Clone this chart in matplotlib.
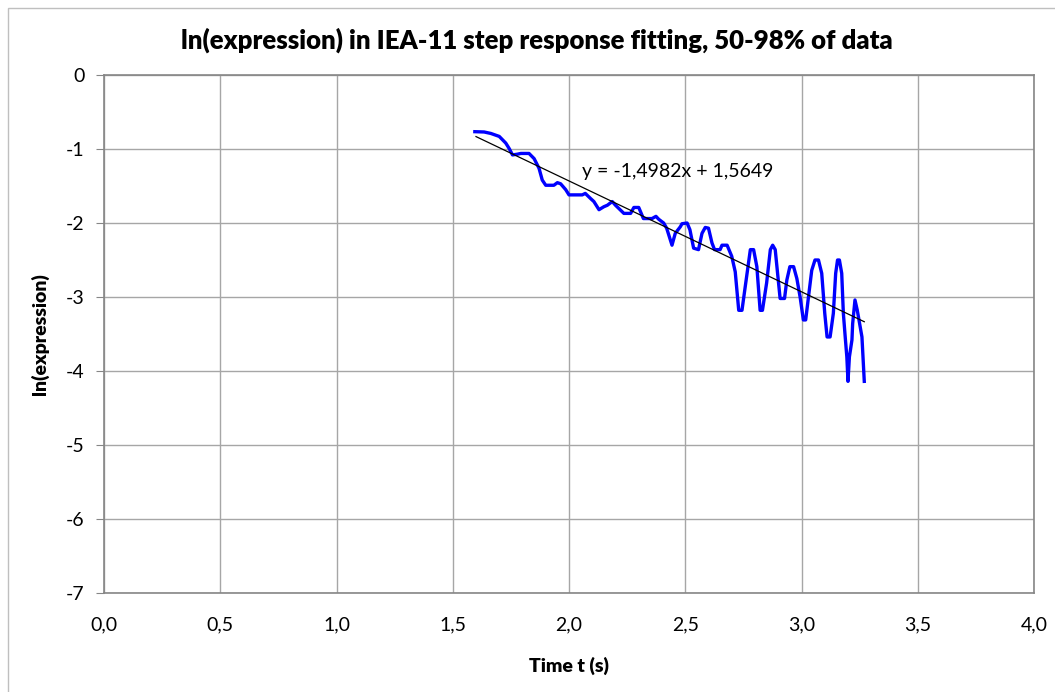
import matplotlib
matplotlib.use("Agg")
import matplotlib.pyplot as plt
from matplotlib.patches import Rectangle
import numpy as np

# time (s) and ln(expression)
t = [1.595, 1.635, 1.664, 1.70, 1.728, 1.742, 1.757, 1.778, 1.793, 1.828, 1.85, 1.871,
     1.885, 1.90, 1.935, 1.95, 1.964, 1.986, 2.0, 2.057, 2.07, 2.093, 2.107, 2.129, 2.15,
     2.165, 2.186, 2.2, 2.236, 2.265, 2.279, 2.30, 2.32, 2.357, 2.374, 2.386, 2.407, 2.42,
     2.443, 2.457, 2.479, 2.486, 2.508, 2.52, 2.536, 2.557, 2.572, 2.586, 2.60, 2.615,
     2.626, 2.65, 2.658, 2.68, 2.70, 2.715, 2.73, 2.744, 2.758, 2.78, 2.794, 2.808, 2.822,
     2.832, 2.85, 2.866, 2.876, 2.887, 2.90, 2.908, 2.927, 2.937, 2.95, 2.966, 2.98, 2.994,
     3.008, 3.018, 3.03, 3.044, 3.058, 3.073, 3.087, 3.10, 3.11, 3.123, 3.137, 3.147, 3.155,
     3.163, 3.173, 3.18, 3.188, 3.195, 3.2, 3.206, 3.217, 3.22, 3.23, 3.24, 3.25, 3.26, 3.27]
ln_expr = [-0.766, -0.77, -0.79, -0.83, -0.92, -0.99, -1.08, -1.07, -1.06, -1.06, -1.13, -1.26,
           -1.42, -1.49, -1.49, -1.455, -1.47, -1.55, -1.62, -1.62, -1.60, -1.67, -1.71, -1.82, -1.78,
           -1.76, -1.71, -1.76, -1.87, -1.87, -1.79, -1.79, -1.94, -1.94, -1.91, -1.95, -2.0, -2.07,
           -2.30, -2.14, -2.05, -2.01, -2.0, -2.09, -2.34, -2.36, -2.14, -2.06, -2.07, -2.27,
           -2.36, -2.36, -2.30, -2.30, -2.45, -2.66, -3.18, -3.18, -2.86, -2.36, -2.36, -2.59, -3.18,
           -3.18, -2.81, -2.36, -2.30, -2.36, -2.77, -3.02, -3.02, -2.77, -2.59, -2.59, -2.75, -3.0,
           -3.31, -3.31, -3.0, -2.64, -2.50, -2.50, -2.68, -3.22, -3.54, -3.54, -3.22, -2.68, -2.50,
           -2.50, -2.68, -3.22, -3.54, -3.81, -4.14, -3.81, -3.58, -3.36, -3.04, -3.18, -3.36, -3.54, -4.14]

slope = -1.4982
intercept = 1.5649
fit_range = [1.6, 3.27]

xticks = [0.0, 0.5, 1.0, 1.5, 2.0, 2.5, 3.0, 3.5, 4.0]
xticklabels = ["0,0", "0,5", "1,0", "1,5", "2,0", "2,5", "3,0", "3,5", "4,0"]
yticks = [0, -1, -2, -3, -4, -5, -6, -7]

plt.rcParams["font.family"] = ["Lato", "DejaVu Sans"]

fig = plt.figure(figsize=(10.55, 6.92), dpi=100)
fig.patches.append(Rectangle((8/1055, -0.01), 1.05, (692-8)/692 + 0.01, transform=fig.transFigure,
                             fill=False, edgecolor="#bfbfbf", linewidth=1.0))
ax = fig.add_axes([104/1055, 1-593/692, (1034-104)/1055, (593-75)/692])

ax.plot(t, ln_expr, color="#0000ff", linewidth=2.4, zorder=3)
xf = np.array(fit_range)
ax.plot(xf, slope*xf + intercept, color="black", linewidth=0.9, zorder=4)
ax.text(2.056, -1.31, "y = -1,4982x + 1,5649", fontsize=14, color="black", va="center")

ax.set_xlim(0, 4)
ax.set_ylim(-7, 0)
ax.set_xticks(xticks)
ax.set_xticklabels(xticklabels, fontsize=14)
ax.set_yticks(yticks)
ax.set_yticklabels([str(v) for v in yticks], fontsize=14)
ax.grid(True, color="#a6a6a6", linewidth=1.0)
ax.set_axisbelow(True)
for s in ax.spines.values():
    s.set_color("#868686")
    s.set_linewidth(1.2)
ax.tick_params(axis="x", length=0, pad=17)
ax.tick_params(axis="y", length=6, color="#868686", pad=8)

fig.text(537/1055, 1-40/692, "ln(expression) in IEA-11 step response fitting, 50-98% of data",
         fontsize=18.5, fontweight="heavy", ha="center", va="center")
ax.set_xlabel("Time t (s)", fontsize=14, fontweight="heavy", labelpad=17)
ax.set_ylabel("ln(expression)", fontsize=14, fontweight="heavy", labelpad=12)

fig.savefig("out.png", dpi=100)
